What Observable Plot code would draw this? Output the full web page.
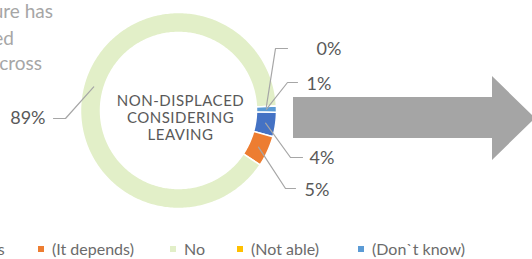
<!DOCTYPE html>
<html><head><meta charset="utf-8">
<script src="https://cdn.jsdelivr.net/npm/d3@7"></script>
<script src="https://cdn.jsdelivr.net/npm/@observablehq/plot@0.6"></script>
<style>
html,body{margin:0;padding:0;background:#fff;overflow:hidden;width:532px;height:259px}
#wrap{position:relative;width:532px;height:259px;overflow:hidden;font-family:Lato, "Open Sans", sans-serif}
#wrap svg{position:absolute;left:0;top:0;overflow:visible}
#legend{position:absolute;top:239px;left:0;width:532px;height:19px;white-space:nowrap;font-size:16px;line-height:19px;color:#6b6b6b}
.item{position:absolute;top:0;display:flex;align-items:center}
.sw{width:6px;height:6px;margin-right:8px;flex:none}
</style></head><body><div id="wrap"></div>
<script>
// ---- data ----
const categories = ["Yes", "(It depends)", "No", "(Not able)", "(Don`t know)"];
const values = [4, 5, 89, 0, 1];
const colors = ["#4472C4", "#ED7D31", "#E2EFC8", "#FFC000", "#5B9BD5"];
const centerTitle = ["NON-DISPLACED", "CONSIDERING", "LEAVING"];
const introFragments = ["ure has", "ed", "cross"];

// ---- layout ----
const W = 532, H = 259;
const cx = 178, cy = 110, rOuter = 98, rInner = 78, rMid = 88;
const firstSliceDeg = 91;
const titleBox = {x0: 120, x1: 240}; // horizontal extent of the widest title line
const legendSwatchX = [null, 38, 170, 237, 358]; // first item is placed so its text ends at x = 5
const leaderLayout = {
  "No":           {elbow: [65, 118], end: [53, 118], text: [45, 118], anchor: "end"},
  "(Not able)":   {elbow: [275, 48], end: [287, 48], text: [316, 49], anchor: "start"},
  "(Don`t know)": {elbow: [287, 82], end: [297, 82], text: [306, 84], anchor: "start"},
  "Yes":          {elbow: [290, 157], end: [302, 157], text: [309, 158], anchor: "start"},
  "(It depends)": {elbow: [285, 188], end: [295, 188], text: [304, 190], anchor: "start"}
};

const a0 = firstSliceDeg * Math.PI / 180;
const pie = d3.pie().sort(null).value(d => d.value).startAngle(a0).endAngle(a0 + 2 * Math.PI);
const slices = pie(categories.map((c, i) => ({category: c, value: values[i]})));
const pt = (a, r) => [cx + r * Math.sin(a), cy - r * Math.cos(a)];

const ringPts = [];
slices.forEach(s => {
  const span = s.endAngle - s.startAngle;
  const n = Math.max(2, Math.ceil(span / (Math.PI / 180)));
  const angs = d3.range(n + 1).map(k => s.startAngle + span * k / n);
  const seq = [...angs.map(a => pt(a, rOuter)), ...angs.slice().reverse().map(a => pt(a, rInner))];
  seq.push(seq[0]);
  seq.forEach(([x, y]) => ringPts.push({category: s.data.category, x, y}));
});

const leaderPts = [];
const labelRows = [];
slices.forEach(s => {
  const L = leaderLayout[s.data.category];
  const mid = (s.startAngle + s.endAngle) / 2;
  const [mx, my] = pt(mid, rMid);
  [[mx, my], L.elbow, L.end].forEach(([x, y]) => leaderPts.push({category: s.data.category, x, y}));
  labelRows.push({category: s.data.category, label: s.data.value + "%", x: L.text[0], y: L.text[1], anchor: L.anchor});
});

const chart = Plot.plot({
  width: W, height: H, margin: 0,
  x: {domain: [0, W], range: [0, W], axis: null},
  y: {domain: [0, H], range: [0, H], axis: null},
  color: {domain: categories, range: colors},
  style: {fontFamily: "Lato, 'Open Sans', sans-serif", background: "transparent"},
  marks: [
    Plot.line(ringPts, {x: "x", y: "y", z: "category", fill: "category", stroke: "#ffffff", strokeWidth: 1.5, curve: "linear"}),
    Plot.line(leaderPts, {x: "x", y: "y", z: "category", stroke: "#a6a6a6", strokeWidth: 1.2}),
    Plot.text(labelRows.filter(d => d.anchor === "start"), {x: "x", y: "y", text: "label", textAnchor: "start", fontSize: 18, fill: "#595959"}),
    Plot.text(labelRows.filter(d => d.anchor === "end"), {x: "x", y: "y", text: "label", textAnchor: "end", fontSize: 18, fill: "#595959"}),
    Plot.text([centerTitle.join("\n")], {x: () => (titleBox.x0 + titleBox.x1) / 2, y: () => cy + 7, text: d => d, fontSize: 17, lineHeight: 1.12, fill: "#595959"})
  ]
});

const wrap = document.getElementById("wrap");
wrap.appendChild(chart);

// fit the centre title's width to the measured extent (Gill Sans capitals are broad)
d3.select(chart).selectAll("text")
  .filter(function () { return this.textContent.includes("NON-DISPLACED"); })
  .each(function () {
    const sel = d3.select(this).style("letter-spacing", "0.5px");
    const b = this.getBBox();
    if (b.width > 0) {
      const fs = 17 * (titleBox.x1 - titleBox.x0) / b.width;
      sel.style("font-size", Math.max(15, Math.min(18.5, fs)) + "px");
    }
  });

// decorative block arrow and cut-off intro text
const svg = d3.select(chart);
svg.append("polygon")
  .attr("points", "293,97 492,97 492,76 535,118 492,160 492,138 293,138")
  .attr("fill", "#A5A5A5");
const introG = svg.append("g").attr("fill", "#a6a6a6").attr("font-size", 19).attr("text-anchor", "end");
[[53, 18], [14, 45], [42, 70]].forEach(([x, y], i) => introG.append("text").attr("x", x).attr("y", y).text(introFragments[i]));

// legend
const legend = document.createElement("div");
legend.id = "legend";
wrap.appendChild(legend);
categories.forEach((c, i) => {
  const it = document.createElement("div"); it.className = "item";
  const sw = document.createElement("div"); sw.className = "sw"; sw.style.background = colors[i];
  const tx = document.createElement("span"); tx.textContent = c;
  it.appendChild(sw); it.appendChild(tx); legend.appendChild(it);
  if (legendSwatchX[i] != null) it.style.left = legendSwatchX[i] + "px";
  else it.style.left = (5 - it.offsetWidth) + "px";
});
</script>
</body></html>
